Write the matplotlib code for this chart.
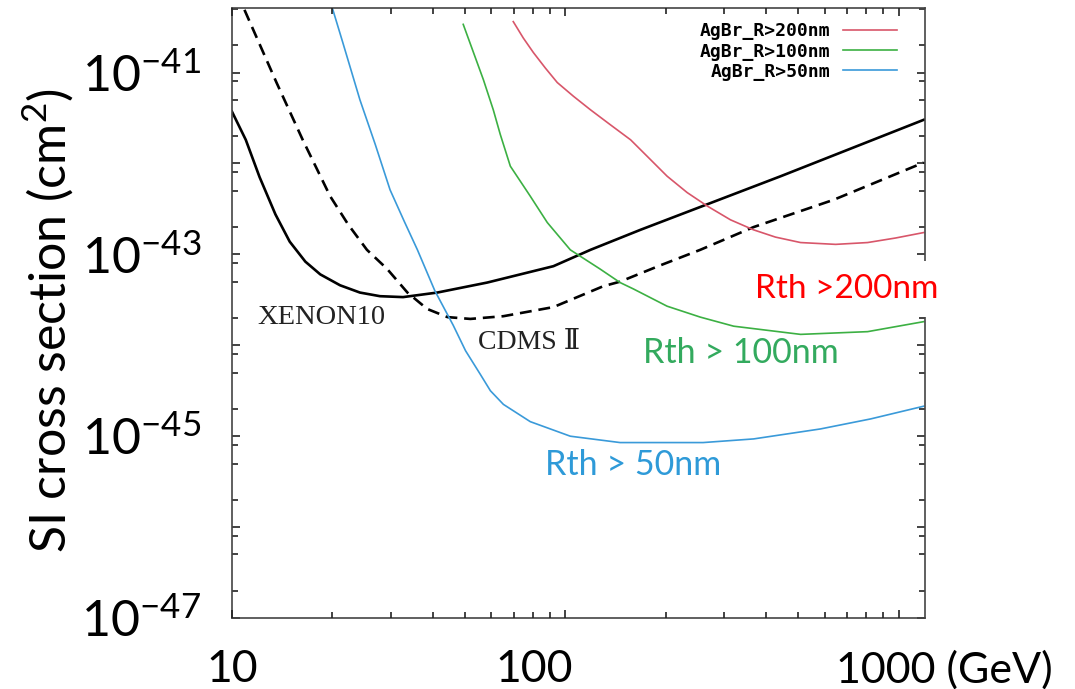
import numpy as np
import matplotlib
matplotlib.use("Agg")
import matplotlib.pyplot as plt
from matplotlib.ticker import NullFormatter

plt.rcParams['font.family'] = ['Lato', 'DejaVu Sans']
plt.rcParams['mathtext.fontset'] = 'custom'
plt.rcParams['mathtext.rm'] = 'Lato'

# WIMP mass (GeV) and log10 of SI cross section (cm^2)
xenon_m = [10, 11.0, 12.1, 13.5, 14.9, 16.6, 18.4, 21.1, 24.2, 27.8, 32.6, 41.3, 58.3, 92.1, 119, 168, 443, 1189]
xenon_s = [-41.43, -41.74, -42.15, -42.56, -42.86, -43.08, -43.22, -43.34, -43.42, -43.46, -43.47,
           -43.42, -43.31, -43.13, -42.95, -42.73, -42.14, -41.52]

cdms_m = [10.9, 13.6, 16.3, 19.7, 22.3, 25.4, 29.2, 33.6, 38.5, 44.3, 51.9, 65.2, 92.1, 130, 146,
          193, 254, 367, 638, 1189]
cdms_s = [-40.31, -41.11, -41.74, -42.36, -42.67, -42.95, -43.16, -43.42, -43.60, -43.69, -43.71,
          -43.68, -43.58, -43.35, -43.30, -43.12, -42.95, -42.70, -42.40, -41.99]

r50_m = [20, 21.5, 24.2, 26.9, 29.8, 32.9, 36, 40.6, 46.1, 50.2, 55.6, 59.6, 65.2, 78.5, 103.5,
         146, 259, 367, 583, 824, 1189]
r50_s = [-40.29, -40.67, -41.30, -41.79, -42.29, -42.64, -42.95, -43.40, -43.78, -44.06, -44.32,
         -44.50, -44.65, -44.84, -45.00, -45.07, -45.07, -45.03, -44.92, -44.81, -44.67]

r100_m = [49.4, 56.8, 60.8, 63.8, 68.4, 78.5, 88.3, 103.5, 127, 146, 160, 202, 254, 320, 508, 807, 1189]
r100_s = [-40.47, -41.08, -41.41, -41.68, -42.03, -42.36, -42.65, -42.95, -43.16, -43.31, -43.38,
          -43.57, -43.69, -43.79, -43.88, -43.85, -43.74]

r200_m = [69.8, 74.8, 80.2, 87.1, 94.6, 105.7, 119, 136, 157, 177, 202, 232, 267, 313, 367, 427,
          508, 647, 807, 979, 1189]
r200_s = [-40.44, -40.62, -40.78, -40.95, -41.11, -41.26, -41.41, -41.57, -41.74, -41.93, -42.14,
          -42.32, -42.47, -42.62, -42.73, -42.81, -42.87, -42.89, -42.87, -42.82, -42.76]

legend_labels = ['AgBr_R>200nm', 'AgBr_R>100nm', 'AgBr_R>50nm']
curve_colors = ['#d8566a', '#3cb043', '#3a9ad9']

xtick_minor = [20, 30, 40, 50, 60, 70, 80, 90, 200, 300, 400, 500, 600, 700, 800, 900]
ytick_vals = [1e-47, 1e-46, 1e-45, 1e-44, 1e-43, 1e-42, 1e-41]
ytick_text = [r'$\mathregular{10^{-47}}$', '', r'$\mathregular{10^{-45}}$', '',
              r'$\mathregular{10^{-43}}$', '', r'$\mathregular{10^{-41}}$']
ytick_minor = [m * 10.0 ** e for e in range(-47, -40) for m in (2, 5, 8)]

fig = plt.figure(figsize=(10.75, 6.89), dpi=100)
ax = fig.add_axes([0.2158, 0.1030, 0.6447, 0.8854])

ax.plot(xenon_m, 10.0 ** np.array(xenon_s), color='black', lw=1.9)
ax.plot(cdms_m, 10.0 ** np.array(cdms_s), color='black', lw=1.9, ls=(0, (4.5, 2.6)))
l200, = ax.plot(r200_m, 10.0 ** np.array(r200_s), color=curve_colors[0], lw=1.2)
l100, = ax.plot(r100_m, 10.0 ** np.array(r100_s), color=curve_colors[1], lw=1.2)
l50, = ax.plot(r50_m, 10.0 ** np.array(r50_s), color=curve_colors[2], lw=1.2)

ax.set_xscale('log')
ax.set_yscale('log')
ax.set_xlim(10, 1200)
ax.set_ylim(1e-47, 10 ** -40.29)

ax.set_xticks([10, 100, 1000])
ax.set_xticklabels(['', '', ''])
ax.set_xticks(xtick_minor, minor=True)
ax.xaxis.set_minor_formatter(NullFormatter())
ax.set_yticks(ytick_vals)
ax.set_yticklabels(ytick_text, fontsize=36)
ax.set_yticks(ytick_minor, minor=True)
ax.yaxis.set_minor_formatter(NullFormatter())
ax.set_ylim(1e-47, 10 ** -40.29)
ax.tick_params(which='both', direction='in', top=True, right=True, color='#222222')
ax.tick_params(which='major', length=6, width=1.2)
ax.tick_params(which='minor', length=4, width=1.2)
ax.tick_params(axis='y', which='major', pad=22)
for sp in ax.spines.values():
    sp.set_color('#444444')
    sp.set_linewidth(1.2)

# x labels sit a little left of their ticks in the source picture
xt = ax.get_xaxis_transform()
ax.text(10, -0.085, '10', transform=xt, ha='center', va='center', fontsize=32, clip_on=False)
ax.text(80.7, -0.085, '100', transform=xt, ha='center', va='center', fontsize=32, clip_on=False)
ax.text(650, -0.085, '1000 (GeV)', transform=xt, ha='left', va='center', fontsize=31, clip_on=False)

fig.text(48 / 1075, 0.5355, 'SI cross section (cm$^2$)', rotation=90, ha='center', va='center', fontsize=36)

leg = ax.legend([l200, l100, l50], legend_labels, loc='upper right', bbox_to_anchor=(0.978, 0.997),
                frameon=False, markerfirst=False, handlelength=3.0, handletextpad=0.7,
                labelspacing=0.12, borderpad=0.2,
                prop={'family': 'DejaVu Sans Mono', 'weight': 'bold', 'size': 13})

serif = ['Liberation Serif', 'DejaVu Serif', 'DejaVu Sans']
ax.text(11.9, 10 ** -43.69, 'XENON10', family=serif, fontsize=20.5, color='#222222', ha='left', va='center')
ax.text(54.8, 10 ** -43.97, 'CDMS Ⅱ', family=serif, fontsize=20, color='#222222', ha='left', va='center')

ax.text(370, 10 ** -43.38, 'Rth >200nm', color='#ff0000', fontsize=24, ha='left', va='center', zorder=10,
        clip_on=False, bbox=dict(boxstyle='square,pad=0.4', facecolor='white', edgecolor='none'))
ax.text(171, 10 ** -44.08, 'Rth > 100nm', color='#33aa5e', fontsize=24.5, ha='left', va='center')
ax.text(87.1, 10 ** -45.32, 'Rth > 50nm', color='#2e9ad8', fontsize=24.5, ha='left', va='center')

# make sure the x tick marks are drawn on both bottom and top
fig.canvas.draw()
ax.xaxis.set_tick_params(which='both', bottom=True, top=True, direction='in', color='#222222')
for tk in ax.xaxis.get_major_ticks() + ax.xaxis.get_minor_ticks():
    for ln in (tk.tick1line, tk.tick2line):
        ln.set_visible(True)
        ln.set_color('#222222')
        ln.set_markeredgewidth(1.2)
ax.xaxis.set_zorder(4)

fig.savefig('out.png', dpi=100)
